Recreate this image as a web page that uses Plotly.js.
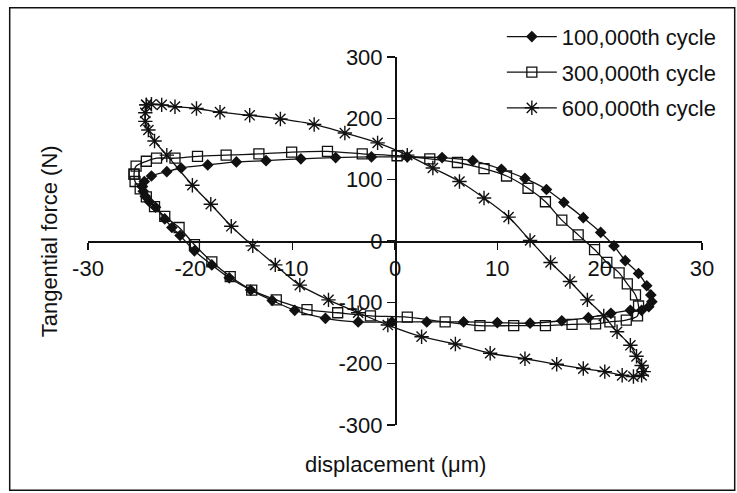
<!DOCTYPE html>
<html>
<head>
<meta charset="utf-8">
<script src="https://cdn.plot.ly/plotly-3.0.1.min.js"></script>
<style>html,body{margin:0;padding:0;background:#fff;}#chart{width:737px;height:493px;}</style>
</head>
<body>
<div id="chart"></div>
<script>
// 100,000th cycle
const c1x = [-24.7,-24.5,-23.8,-22.3,-20.9,-18.3,-15.5,-12.6,-9.2,-5.8,-2.3,1.2,4.6,7.6,10.4,12.7,14.8,16.5,18.4,20.1,21.4,22.5,23.8,24.6,25.0,25.1,24.8,24.1,23.0,21.1,18.9,16.3,13.2,10.0,6.7,3.1,-0.3,-3.6,-6.8,-9.8,-12.0,-14.1,-16.2,-17.9,-19.6,-21.0,-21.8,-22.5,-23.4,-24.0,-24.4,-24.6,-24.7];
const c1y = [89,97,106,113,119,124,129,131,134,136,137,137,136,131,117,102,84,63,38,14,-8,-32,-53,-73,-88,-99,-107,-113,-113,-118,-125,-130,-134,-133,-132,-132,-132,-132,-126,-113,-97,-80,-60,-39,-16,9,22,36,55,64,73,81,89];
// 300,000th cycle
const c2x = [-25.5,-25.3,-24.3,-23.3,-21.5,-19.3,-16.5,-13.3,-10.1,-6.6,-3.2,0.2,3.4,6.1,8.7,10.9,13.0,14.7,16.3,17.9,19.5,20.7,21.9,22.7,23.5,23.8,23.7,22.6,21.0,19.6,17.3,14.7,11.6,8.3,4.9,1.2,-2.4,-5.6,-8.6,-11.6,-14.0,-16.1,-17.9,-19.6,-21.1,-22.5,-23.5,-24.3,-24.9,-25.4,-25.5];
const c2y = [109,122,130,135,135,138,140,142,145,146,142,139,134,128,118,106,86,64,34,10,-14,-35,-52,-70,-88,-106,-122,-129,-132,-135,-136,-138,-138,-138,-132,-124,-122,-117,-112,-96,-80,-58,-34,-6,22,40,56,72,85,97,109];
// 600,000th cycle
const c3x = [-24.3,-23.8,-22.8,-21.5,-19.4,-17.1,-14.2,-11.2,-7.9,-4.9,-1.7,1.2,3.7,6.3,8.7,11.1,13.2,15.2,17.1,18.8,20.4,21.7,23.0,23.6,24.1,24.3,24.1,23.3,22.2,20.5,18.4,15.8,12.7,9.3,5.9,2.6,-0.7,-3.6,-6.5,-9.3,-11.7,-13.9,-16.0,-18.0,-19.8,-22.3,-23.5,-24.1,-24.4,-24.4,-24.3];
const c3y = [222,223,222,219,216,210,205,199,190,176,160,140,119,97,70,39,1,-35,-66,-96,-122,-148,-170,-188,-203,-213,-219,-221,-219,-213,-208,-201,-192,-183,-168,-156,-137,-117,-96,-72,-39,-8,24,60,91,140,163,181,195,209,222];

const seriesNames = ['100,000th cycle','300,000th cycle','600,000th cycle'];
const xTicks = [-30,-20,-10,0,10,20,30];
const yTicks = [-300,-200,-100,0,100,200,300];

const FONT = 'Liberation Sans, Arial, sans-serif';
const ink = '#111111';
const lineStyle = {color: ink, width: 1.3, shape: 'spline', smoothing: 0.8};

const traces = [
  {x: c1x, y: c1y, name: seriesNames[0], legendgroup: 'a', mode: 'lines+markers', line: lineStyle,
   marker: {symbol: 'diamond', size: 9, color: ink, line: {width: 0}}},
  {x: c2x, y: c2y, name: seriesNames[1], legendgroup: 'b', mode: 'lines+markers', line: lineStyle,
   marker: {symbol: 'square-open', size: 10, color: ink, line: {width: 1.3, color: ink}}},
  {x: c3x, y: c3y, name: seriesNames[2], legendgroup: 'c', mode: 'lines+markers', line: lineStyle,
   marker: {symbol: 'asterisk-open', size: 12, color: ink, line: {width: 1.4, color: ink}}}
];

const layout = {
  width: 737, height: 493,
  margin: {l: 88.3, r: 34.7, t: 56.5, b: 67.5, pad: 0},
  paper_bgcolor: '#fff', plot_bgcolor: 'rgba(0,0,0,0)',
  font: {family: FONT, size: 22, color: ink},
  showlegend: true,
  legend: {x: 0.674, y: 1.112, xanchor: 'left', yanchor: 'top', bgcolor: 'rgba(0,0,0,0)',
           font: {family: FONT, size: 22, color: ink}, itemwidth: 50, tracegroupgap: 4,
           traceorder: 'grouped'},
  xaxis: {range: [-30, 30], anchor: 'free', position: 0.5, showgrid: false, zeroline: false,
          showline: true, linecolor: ink, linewidth: 1.5, ticks: 'outside', ticklen: 7, tickwidth: 1.5,
          tickcolor: ink, tickvals: xTicks, ticktext: xTicks.map(String),
          tickfont: {family: FONT, size: 22, color: ink}},
  yaxis: {range: [-300, 300], anchor: 'free', position: 0.5, showgrid: false, zeroline: false,
          showline: true, linecolor: ink, linewidth: 1.5, ticks: 'outside', ticklen: 8, tickwidth: 1.5,
          tickcolor: ink, tickvals: yTicks, ticktext: yTicks.map(String),
          tickfont: {family: FONT, size: 22, color: ink}},
  annotations: [
    {text: 'displacement (\u03bcm)', xref: 'paper', yref: 'paper', x: 0.5, y: -0.108,
     xanchor: 'center', yanchor: 'middle', showarrow: false, font: {family: FONT, size: 22, color: ink}},
    {text: 'Tangential force (N)', xref: 'paper', yref: 'paper', x: -0.063, y: 0.5, textangle: -90,
     xanchor: 'center', yanchor: 'middle', showarrow: false, font: {family: FONT, size: 22, color: ink}}
  ],
  shapes: [
    {type: 'rect', xref: 'paper', yref: 'paper', x0: (10 - 88.3) / 614, x1: (735 - 88.3) / 614,
     y0: (425.5 - 491) / 369, y1: (425.5 - 7) / 369, line: {color: ink, width: 1.5}, layer: 'below'}
  ]
};

Plotly.newPlot('chart', traces, layout, {displayModeBar: false, staticPlot: true});
</script>
</body>
</html>
